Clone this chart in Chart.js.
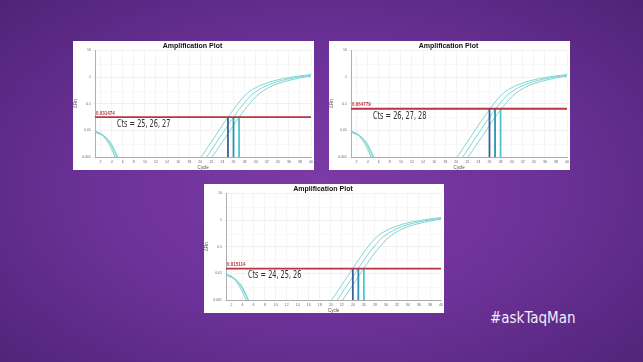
<!DOCTYPE html>
<html>
<head>
<meta charset="utf-8">
<script src="https://cdn.jsdelivr.net/npm/chart.js@4"></script>
<style>
  html, body { margin: 0; padding: 0; }
  body {
    width: 643px; height: 362px; overflow: hidden; position: relative;
    background: radial-gradient(ellipse 75% 80% at 50% 52%, #7c3ba6 0%, #6d3299 45%, #4a2272 100%);
  }
  .panel { position: absolute; background: #ffffff; }
  .tag {
    position: absolute; left: 490px; top: 309px; color: #f3ecf7;
    font-family: 'DejaVu Sans Condensed', 'DejaVu Sans', sans-serif; font-size: 15px;
  }
</style>
</head>
<body>
<div class="panel" style="left:73px;top:41px;width:241px;height:129px"><canvas id="plot1" width="241" height="129"></canvas></div>
<div class="panel" style="left:329px;top:41px;width:241px;height:129px"><canvas id="plot2" width="241" height="129"></canvas></div>
<div class="panel" style="left:204px;top:184px;width:240px;height:129px"><canvas id="plot3" width="240" height="129"></canvas></div>
<div class="tag">#askTaqMan</div>

<script>
// Cycles on the x axis
const cycles = [1, 2, 3, 4, 5, 6, 7, 8, 9, 10, 11, 12, 13, 14, 15, 16, 17, 18, 19, 20,
  21, 22, 23, 24, 25, 26, 27, 28, 29, 30, 31, 32, 33, 34, 35, 36, 37, 38, 39, 40];

// Three replicate curves (ΔRn), same in every panel — only the threshold moves
const curveA = [0.0095, 0.0075, 0.0045, 0.002, 0.0006,
  null, null, null, null, null, null, null, null, null, null, null, null, null,
  0.00045, 0.0009, 0.0018, 0.0037, 0.0075, 0.0155, 0.031, 0.061, 0.115, 0.2, 0.3, 0.4,
  0.5, 0.6, 0.7, 0.79, 0.88, 0.96, 1.04, 1.11, 1.18, 1.25];
const curveB = [0.009, 0.0078, 0.005, 0.0026, 0.0009, 0.0003,
  null, null, null, null, null, null, null, null, null, null, null, null, null,
  0.00045, 0.0009, 0.0018, 0.0037, 0.0075, 0.0155, 0.031, 0.061, 0.11, 0.19, 0.28,
  0.38, 0.48, 0.58, 0.68, 0.77, 0.86, 0.94, 1.02, 1.1, 1.17];
const curveC = [0.0085, 0.007, 0.0055, 0.003, 0.0011, 0.0004,
  null, null, null, null, null, null, null, null, null, null, null, null, null, null,
  0.00045, 0.0009, 0.0018, 0.0037, 0.0075, 0.0155, 0.031, 0.06, 0.105, 0.18,
  0.27, 0.37, 0.47, 0.57, 0.66, 0.75, 0.84, 0.93, 1.01, 1.09];

// Thresholds and Ct values for each panel
const thresholds = [0.031474, 0.064779, 0.015114];
const thresholdLabels = ['0.031474', '0.064779', '0.015114'];
const ctValues = [[25, 26, 27], [26, 27, 28], [24, 25, 26]];

// Tick labels
const yTicks = [0.001, 0.01, 0.1, 1, 10];
const yMinor = [0.003, 0.03, 0.3, 3];
const xTicks = [2, 4, 6, 8, 10, 12, 14, 16, 18, 20, 22, 24, 26, 28, 30, 32, 34, 36, 38, 40];

const curveColor = '#72cfd0';
const ctColors = ['#3d5e98', '#2b93b3', '#4ec3cb'];
const thresholdColor = '#b8343f';

function toPoints(values) {
  return cycles.map((c, i) => ({ x: c, y: values[i] }));
}

// Draws the threshold value and the "Cts = ..." note
const notesPlugin = {
  id: 'notes',
  afterDatasetsDraw(chart, args, opts) {
    const ctx = chart.ctx;
    const area = chart.chartArea;
    const yPix = chart.scales.y.getPixelForValue(opts.threshold);
    ctx.save();
    ctx.fillStyle = thresholdColor;
    ctx.font = 'bold 4.5px "Liberation Sans", sans-serif';
    ctx.textBaseline = 'bottom';
    ctx.fillText(opts.thresholdLabel, area.left + 1, yPix - 1.5);
    // condensed look for the note
    ctx.fillStyle = '#2e2e2e';
    ctx.font = '11px "DejaVu Sans Condensed", sans-serif';
    ctx.textBaseline = 'middle';
    ctx.translate(area.left + 22, yPix + 7);
    ctx.scale(0.66, 1);
    ctx.fillText('Cts = ' + opts.cts.join(', '), 0, 0);
    ctx.restore();
  },
};

function makePlot(id, idx) {
  const thr = thresholds[idx];
  const cts = ctValues[idx];
  const datasets = [];

  // Threshold line
  datasets.push({
    data: [{ x: 1, y: thr }, { x: 40, y: thr }],
    borderColor: thresholdColor, borderWidth: 1.8, pointRadius: 0, order: 0,
  });
  // Ct drop lines
  cts.forEach((ct, i) => {
    datasets.push({
      data: [{ x: ct, y: thr }, { x: ct, y: 0.001 }],
      borderColor: ctColors[i], borderWidth: 1.8, pointRadius: 0, order: 1,
    });
  });
  // Amplification curves
  [curveA, curveB, curveC].forEach(vals => {
    datasets.push({
      data: toPoints(vals),
      borderColor: curveColor, borderWidth: 0.9, pointRadius: 0,
      tension: 0.35, spanGaps: false, order: 2,
    });
  });

  new Chart(document.getElementById(id), {
    type: 'line',
    data: { datasets },
    plugins: [notesPlugin],
    options: {
      responsive: false,
      animation: false,
      layout: { padding: { left: 0, right: 2, top: 0, bottom: 0 } },
      plugins: {
        legend: { display: false },
        tooltip: { enabled: false },
        title: {
          display: true, text: 'Amplification Plot', color: '#111',
          font: { family: 'Liberation Sans', size: 7, weight: 'bold', lineHeight: 1 },
          padding: { top: 1.5, bottom: 1 },
        },
        notes: { threshold: thr, thresholdLabel: thresholdLabels[idx], cts },
      },
      scales: {
        x: {
          type: 'linear', min: 1, max: 40,
          afterBuildTicks: scale => { scale.ticks = xTicks.map(v => ({ value: v })); },
          afterFit: scale => { scale.height = 13; },
          ticks: { font: { size: 3.5 }, color: '#666', padding: 1, maxRotation: 0 },
          grid: { color: '#eeeeee', lineWidth: 0.6, tickLength: 2 },
          border: { color: '#9a9a9a', width: 0.8 },
          title: { display: true, text: 'Cycle', font: { size: 4.5 }, color: '#555', padding: 0 },
        },
        y: {
          type: 'logarithmic', min: 0.001, max: 10,
          afterBuildTicks: scale => {
            scale.ticks = yTicks.concat(yMinor).sort((a, b) => a - b).map(v => ({ value: v }));
          },
          afterFit: scale => { scale.width = 22; },
          ticks: {
            font: { size: 3.5 }, color: '#666', padding: 2, autoSkip: false,
            callback: v => (yTicks.includes(v) ? String(v) : ''),
          },
          grid: {
            color: c => (yTicks.includes(c.tick && c.tick.value) ? '#e8e8e8' : '#f4f4f4'),
            lineWidth: 0.6, tickLength: 2,
          },
          border: { color: '#9a9a9a', width: 0.8 },
          title: { display: true, text: 'ΔRn', font: { size: 4.5 }, color: '#555', padding: 0 },
        },
      },
    },
  });
}

makePlot('plot1', 0);
makePlot('plot2', 1);
makePlot('plot3', 2);
</script>
</body>
</html>
